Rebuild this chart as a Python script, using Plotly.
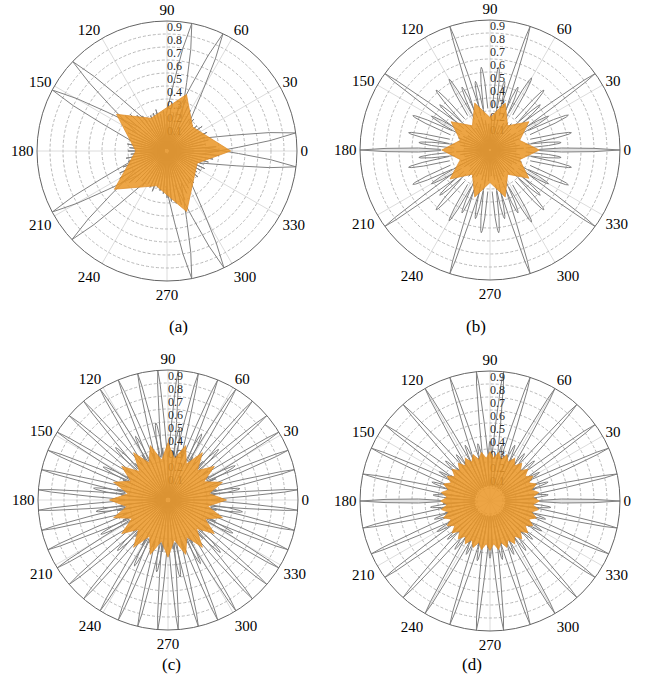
import plotly.graph_objects as go

# ---------------------------------------------------------------- axes / text
ANGLE_TICKS = [0, 30, 60, 90, 120, 150, 180, 210, 240, 270, 300, 330]
ANGLE_TICK_TEXT = [str(a) for a in ANGLE_TICKS]
RADIAL_TICKS = [0.1, 0.2, 0.3, 0.4, 0.5, 0.6, 0.7, 0.8, 0.9]
RADIAL_TICK_TEXT = ["0.1", "0.2", "0.3", "0.4", "0.5", "0.6", "0.7", "0.8", "0.9"]
PANEL_LABELS = ["(a)", "(b)", "(c)", "(d)"]

# ---------------------------------------------------------------- panel (a)
A_STAR_THETA = [0, 43, 71, 116, 144, 180, 216, 253, 288, 338]
A_STAR_R = [0.49, 0.27, 0.46, 0.28, 0.48, 0.24, 0.50, 0.28, 0.49, 0.25]
A_LOBE_THETA = [-7, 8, 64.5, 79, 136.5, 152, 208, 223, 281, 296]
A_LOBE_R = [1.0, 1.0, 1.0, 1.0, 1.0, 1.0, 1.0, 1.0, 1.0, 1.0]
A_STREAK_THETA = list(range(0, 360, 5))
A_STREAK_R = [0.40, 0.38, 0.30, 0.33, 0.31, 0.34, 0.29, 0.33, 0.30, 0.28, 0.32, 0.30,
              0.36, 0.38, 0.42, 0.36, 0.30, 0.33, 0.27, 0.31, 0.29, 0.33, 0.31, 0.30,
              0.28, 0.33, 0.36, 0.40, 0.42, 0.44, 0.38, 0.33, 0.30, 0.27, 0.31, 0.29,
              0.30, 0.28, 0.32, 0.31, 0.36, 0.40, 0.42, 0.44, 0.38, 0.34, 0.30, 0.33,
              0.29, 0.31, 0.33, 0.29, 0.31, 0.33, 0.36, 0.39, 0.41, 0.43, 0.40, 0.36,
              0.33, 0.30, 0.32, 0.29, 0.31, 0.28, 0.30, 0.32, 0.29, 0.33, 0.36, 0.40]

# ---------------------------------------------------------------- panel (b)
B_STAR_THETA = [0, 18, 36, 54, 72, 90, 108, 126, 144, 162,
                180, 198, 216, 234, 252, 270, 288, 306, 324, 342]
B_STAR_R = [0.38, 0.24, 0.37, 0.23, 0.38, 0.25, 0.38, 0.23, 0.37, 0.24,
            0.37, 0.24, 0.38, 0.23, 0.38, 0.25, 0.38, 0.23, 0.37, 0.24]
B_AXIS_LOBE_THETA = [0, 180]
B_AXIS_LOBE_R = [1.0, 1.0]
B_LOBE_THETA = [36, 72, 108, 144, 216, 252, 288, 324]
B_LOBE_R = [1.0, 1.0, 1.0, 1.0, 1.0, 1.0, 1.0, 1.0]
B_MID_THETA = [12, 24, 48, 60, 84, 96, 120, 132, 156, 168,
               192, 204, 228, 240, 264, 276, 300, 312, 336, 348]
B_MID_R = [0.64, 0.66, 0.62, 0.64, 0.64, 0.64, 0.63, 0.62, 0.65, 0.64,
           0.64, 0.65, 0.62, 0.63, 0.64, 0.64, 0.64, 0.62, 0.66, 0.64]
B_SMALL_THETA = [6, 30, 42, 66, 78, 102, 114, 138, 150, 174,
                 186, 210, 222, 246, 258, 282, 294, 318, 330, 354]
B_SMALL_R = [0.55, 0.52, 0.52, 0.53, 0.54, 0.54, 0.53, 0.52, 0.52, 0.55,
             0.55, 0.52, 0.52, 0.53, 0.54, 0.54, 0.53, 0.52, 0.52, 0.55]
B_STREAK_THETA = list(range(3, 360, 6))
B_STREAK_R = [0.26, 0.23, 0.20, 0.24, 0.27, 0.24, 0.20, 0.23, 0.26, 0.25,
              0.23, 0.20, 0.24, 0.27, 0.24, 0.20, 0.23, 0.26, 0.25, 0.23,
              0.20, 0.24, 0.27, 0.24, 0.20, 0.23, 0.26, 0.25, 0.23, 0.20,
              0.26, 0.23, 0.20, 0.24, 0.27, 0.24, 0.20, 0.23, 0.26, 0.25,
              0.23, 0.20, 0.24, 0.27, 0.24, 0.20, 0.23, 0.26, 0.25, 0.23,
              0.20, 0.24, 0.27, 0.24, 0.20, 0.23, 0.26, 0.25, 0.23, 0.20]

# ---------------------------------------------------------------- panel (c)
C_STAR_THETA = [0, 9, 18, 27, 36, 45, 54, 63, 72, 81, 90, 99, 108, 117, 126, 135,
                144, 153, 162, 171, 180, 189, 198, 207, 216, 225, 234, 243, 252, 261,
                270, 279, 288, 297, 306, 315, 324, 333, 342, 351]
C_STAR_R = [0.45, 0.32, 0.44, 0.31, 0.44, 0.32, 0.45, 0.31, 0.44, 0.32,
            0.44, 0.31, 0.44, 0.32, 0.45, 0.31, 0.44, 0.32, 0.44, 0.31,
            0.45, 0.32, 0.44, 0.31, 0.44, 0.32, 0.45, 0.31, 0.44, 0.32,
            0.44, 0.31, 0.44, 0.32, 0.45, 0.31, 0.44, 0.32, 0.44, 0.31]
C_LOBE_THETA = [-4.5, 4.5, 13.5, 22.5, 31.5, 40.5, 49.5, 58.5, 67.5, 76.5,
                85.5, 94.5, 103.5, 112.5, 121.5, 130.5, 139.5, 148.5, 157.5, 166.5,
                175.5, 184.5, 193.5, 202.5, 211.5, 220.5, 229.5, 238.5, 247.5, 256.5,
                265.5, 274.5, 283.5, 292.5, 301.5, 310.5, 319.5, 328.5, 337.5, 346.5]
C_LOBE_R = [1.0] * 40
C_MID_THETA = [9, 27, 45, 63, 81, 99, 117, 135, 153, 171,
               189, 207, 225, 243, 261, 279, 297, 315, 333, 351]
C_MID_R = [0.56, 0.58, 0.55, 0.57, 0.56, 0.60, 0.55, 0.57, 0.56, 0.58,
           0.56, 0.58, 0.55, 0.57, 0.56, 0.60, 0.55, 0.57, 0.56, 0.58]
C_STREAK_THETA = list(range(0, 360, 6))
C_STREAK_R = [0.40, 0.36, 0.38, 0.34, 0.40, 0.36, 0.38, 0.34, 0.40, 0.36,
              0.38, 0.34, 0.40, 0.36, 0.38, 0.34, 0.40, 0.36, 0.38, 0.34,
              0.40, 0.36, 0.38, 0.34, 0.40, 0.36, 0.38, 0.34, 0.40, 0.36,
              0.38, 0.34, 0.40, 0.36, 0.38, 0.34, 0.40, 0.36, 0.38, 0.34,
              0.40, 0.36, 0.38, 0.34, 0.40, 0.36, 0.38, 0.34, 0.40, 0.36,
              0.38, 0.34, 0.40, 0.36, 0.38, 0.34, 0.40, 0.36, 0.38, 0.34]

# ---------------------------------------------------------------- panel (d)
D_STAR_THETA = [t for t in range(0, 360, 5)]
D_STAR_R = [0.38, 0.33] * 36
D_AXIS_LOBE_THETA = [0, 180]
D_AXIS_LOBE_R = [1.0, 1.0]
D_LOBE_THETA = [12, 24, 36, 48, 60, 72, 84, 96, 108, 120, 132, 144, 156, 168,
                192, 204, 216, 228, 240, 252, 264, 276, 288, 300, 312, 324, 336, 348]
D_LOBE_R = [1.0] * 28
D_MID_THETA = [6, 18, 30, 42, 54, 66, 78, 90, 102, 114, 126, 138, 150, 162, 174,
               186, 198, 210, 222, 234, 246, 258, 270, 282, 294, 306, 318, 330, 342, 354]
D_MID_R = [0.45, 0.47, 0.44, 0.46, 0.45, 0.47, 0.44, 0.46, 0.45, 0.47,
           0.44, 0.46, 0.45, 0.47, 0.44, 0.46, 0.45, 0.47, 0.44, 0.46,
           0.45, 0.47, 0.44, 0.46, 0.45, 0.47, 0.44, 0.46, 0.45, 0.47]
D_STREAK_THETA = list(range(3, 360, 6))
D_STREAK_R = [0.36, 0.34] * 30

# ---------------------------------------------------------------- spike shapes
WIDE_DT = [-13, -5.0, -2.2, 0, 2.2, 5.0, 13]
WIDE_RF = [0.27, 0.55, 0.8, 1.0, 0.8, 0.55, 0.27]
THIN_DT = [-3.8, -1.8, -0.6, 0, 0.6, 1.8, 3.8]
THIN_RF = [0.33, 0.6, 0.9, 1.0, 0.9, 0.6, 0.33]
AXIS_DT = [-0.7, -1.6, -0.9, 0, 0.9, 1.6, 0.7]
AXIS_RF = [0.38, 0.55, 0.8, 1.0, 0.8, 0.55, 0.38]
MID_DT = [-3.0, -1.6, -0.6, 0, 0.6, 1.6, 3.0]
MID_RF = [0.5, 0.82, 0.97, 1.0, 0.97, 0.82, 0.5]
STREAK_DT = [-1.2, 0, 1.2]
STREAK_RF = [0.06, 1.0, 0.06]
RING_DT = [-1.0, 0, 1.0]
RING_RF = [0.33, 1.0, 0.33]

GRAY = "rgb(128,128,128)"
LOBE_FILL = "rgb(226,226,226)"
ORANGE_FILL = "rgba(234,150,38,0.86)"
ORANGE_LINE = "rgba(220,140,40,0.9)"
SERIF = "Liberation Serif"


def spike_path(thetas, peaks, dt, rf, closed=False):
    th, rr = [], []
    for a, p in zip(thetas, peaks):
        for d, f in zip(dt, rf):
            th.append(a + d)
            rr.append(p * f)
        if closed:
            th.append(a + dt[0])
            rr.append(p * rf[0])
        th.append(None)
        rr.append(None)
    return th, rr


def merge(*paths):
    th, rr = [], []
    for t, r in paths:
        th += t
        rr += r
    return th, rr


panels = [
    dict(
        gray=merge(spike_path(A_STREAK_THETA, A_STREAK_R, STREAK_DT, STREAK_RF),
                   spike_path(A_LOBE_THETA, A_LOBE_R, WIDE_DT, WIDE_RF)),
        filled=None,
        star=(A_STAR_THETA, A_STAR_R),
    ),
    dict(
        gray=merge(spike_path(B_STREAK_THETA, B_STREAK_R, STREAK_DT, STREAK_RF),
                   spike_path(B_SMALL_THETA, B_SMALL_R, MID_DT, MID_RF),
                   spike_path(B_MID_THETA, B_MID_R, MID_DT, MID_RF),
                   spike_path(B_LOBE_THETA, B_LOBE_R, THIN_DT, THIN_RF)),
        filled=spike_path(B_AXIS_LOBE_THETA, B_AXIS_LOBE_R, AXIS_DT, AXIS_RF, closed=True),
        star=(B_STAR_THETA, B_STAR_R),
    ),
    dict(
        gray=merge(spike_path(C_STREAK_THETA, C_STREAK_R, STREAK_DT, STREAK_RF),
                   spike_path(C_MID_THETA, C_MID_R, MID_DT, MID_RF),
                   spike_path(C_LOBE_THETA, C_LOBE_R, THIN_DT, THIN_RF)),
        filled=None,
        star=(C_STAR_THETA, C_STAR_R),
    ),
    dict(
        gray=merge(spike_path(D_STREAK_THETA, D_STREAK_R, RING_DT, RING_RF),
                   spike_path(D_MID_THETA, D_MID_R, MID_DT, MID_RF),
                   spike_path(D_LOBE_THETA, D_LOBE_R, THIN_DT, THIN_RF)),
        filled=spike_path(D_AXIS_LOBE_THETA, D_AXIS_LOBE_R, AXIS_DT, AXIS_RF, closed=True),
        star=(D_STAR_THETA, D_STAR_R),
    ),
]

W, H = 649, 694
RADIUS = 130
CENTERS = [(167, 151), (490, 150), (168, 500), (490, 501)]  # pixel centres
CAPTION_POS = [(167, 326), (488, 326), (160, 676), (484, 676)]

fig = go.Figure()
layout = dict(width=W, height=H, margin=dict(l=0, r=0, t=0, b=0),
              paper_bgcolor="white", showlegend=False, annotations=[])

for i, p in enumerate(panels):
    name = "polar" if i == 0 else f"polar{i + 1}"
    cx, cy = CENTERS[i]
    layout[name] = dict(
        domain=dict(x=[(cx - RADIUS) / W, (cx + RADIUS) / W],
                    y=[(H - cy - RADIUS) / H, (H - cy + RADIUS) / H]),
        bgcolor="white",
        radialaxis=dict(range=[0, 1], tickvals=RADIAL_TICKS, showticklabels=False,
                        ticks="", showline=False, angle=90,
                        gridcolor="rgb(185,185,185)", griddash="3px,2px", gridwidth=0.8),
        angularaxis=dict(tickvals=ANGLE_TICKS, ticktext=ANGLE_TICK_TEXT,
                         direction="counterclockwise", rotation=0, ticks="",
                         gridcolor="rgb(220,220,220)", gridwidth=1,
                         showline=True, linecolor="rgb(100,100,100)", linewidth=1,
                         tickfont=dict(family=SERIF, size=15, color="black")),
    )
    th, rr = p["gray"]
    fig.add_trace(go.Scatterpolar(theta=th, r=rr, mode="lines", subplot=name,
                                  line=dict(color=GRAY, width=1.0),
                                  connectgaps=False, hoverinfo="skip"))
    if p["filled"] is not None:
        fth, frr = p["filled"]
        fig.add_trace(go.Scatterpolar(theta=fth, r=frr, mode="lines", subplot=name,
                                      fill="toself", fillcolor=LOBE_FILL,
                                      line=dict(color=GRAY, width=1.0),
                                      connectgaps=False, hoverinfo="skip"))
    fig.add_trace(go.Scatterpolar(theta=[90] * len(RADIAL_TICKS), r=RADIAL_TICKS,
                                  mode="text", text=RADIAL_TICK_TEXT,
                                  textposition="top right", subplot=name,
                                  textfont=dict(family=SERIF, size=12, color="rgb(40,40,40)"),
                                  hoverinfo="skip"))
    st, sr = p["star"]
    fig.add_trace(go.Scatterpolar(theta=st + [st[0]], r=sr + [sr[0]], mode="lines",
                                  fill="toself", fillcolor=ORANGE_FILL, subplot=name,
                                  line=dict(color=ORANGE_LINE, width=0.8),
                                  hoverinfo="skip"))
    kx, ky = CAPTION_POS[i]
    layout["annotations"].append(dict(text=PANEL_LABELS[i], x=kx / W, y=1 - ky / H,
                                      xref="paper", yref="paper", showarrow=False,
                                      font=dict(family=SERIF, size=17, color="black")))

fig.update_layout(**layout)
fig.write_html("out.html")
